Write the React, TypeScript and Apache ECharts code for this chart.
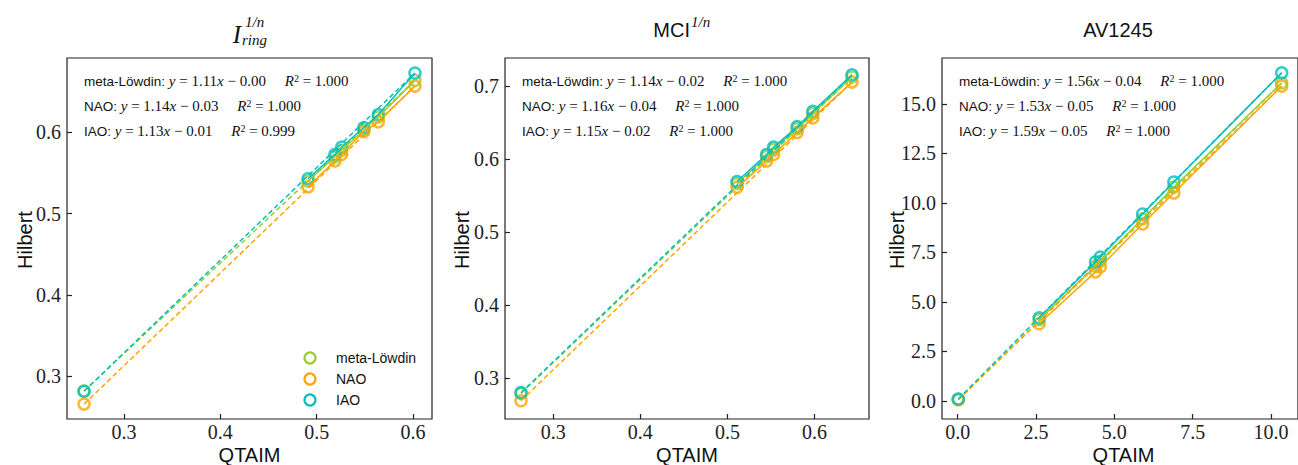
import React, { useEffect, useRef } from "react";
import * as echarts from "echarts";

// ---------- data ----------
const METHODS = ["meta-Löwdin", "NAO", "IAO"];
const COLORS = ["#9acd32", "#ffa500", "#00bfbf"];

const X_IRING = [0.2585, 0.491, 0.519, 0.526, 0.549, 0.564, 0.602];
const IRING_META = [0.282, 0.54, 0.57, 0.578, 0.603, 0.619, 0.664];
const IRING_NAO = [0.266, 0.533, 0.565, 0.573, 0.601, 0.613, 0.657];
const IRING_IAO = [0.2817, 0.543, 0.573, 0.582, 0.606, 0.622, 0.673];

const X_MCI = [0.263, 0.511, 0.545, 0.553, 0.58, 0.598, 0.643];
const MCI_META = [0.279, 0.566, 0.603, 0.613, 0.641, 0.662, 0.712];
const MCI_NAO = [0.269, 0.561, 0.597, 0.606, 0.636, 0.656, 0.705];
const MCI_IAO = [0.28, 0.569, 0.606, 0.616, 0.644, 0.665, 0.715];

const X_AV = [0.02, 2.6, 4.4, 4.55, 5.9, 6.9, 10.34];
const AV_META = [0.08, 4.1, 6.8, 7.05, 9.2, 10.8, 16.06];
const AV_NAO = [0.06, 3.9, 6.52, 6.77, 8.94, 10.5, 15.9];
const AV_IAO = [0.1, 4.2, 7.02, 7.27, 9.44, 11.06, 16.57];

// fit annotations: [slope, intercept, R2]
const IRING_FITS = [["1.11", "0.00", "1.000"], ["1.14", "0.03", "1.000"], ["1.13", "0.01", "0.999"]];
const MCI_FITS = [["1.14", "0.02", "1.000"], ["1.16", "0.04", "1.000"], ["1.15", "0.02", "1.000"]];
const AV_FITS = [["1.56", "0.04", "1.000"], ["1.53", "0.05", "1.000"], ["1.59", "0.05", "1.000"]];

const IRING_XTICKS = [0.3, 0.4, 0.5, 0.6];
const IRING_YTICKS = [0.3, 0.4, 0.5, 0.6];
const MCI_XTICKS = [0.3, 0.4, 0.5, 0.6];
const MCI_YTICKS = [0.3, 0.4, 0.5, 0.6, 0.7];
const AV_XTICKS = [0, 2.5, 5, 7.5, 10];
const AV_YTICKS = [0, 2.5, 5, 7.5, 10, 12.5, 15];

const X_NAME = "QTAIM";
const Y_NAME = "Hilbert";

// ---------- layout ----------
const PANELS = [
  { x: X_IRING, ys: [IRING_META, IRING_NAO, IRING_IAO], fits: IRING_FITS, xt: IRING_XTICKS, yt: IRING_YTICKS,
    xr: [0.2408, 0.6197], yr: [0.2476, 0.6915], grid: { left: 67, top: 58, width: 365, height: 361 }, yNameX: 25 },
  { x: X_MCI, ys: [MCI_META, MCI_NAO, MCI_IAO], fits: MCI_FITS, xt: MCI_XTICKS, yt: MCI_YTICKS,
    xr: [0.2446, 0.6625], yr: [0.244, 0.738], grid: { left: 505, top: 58, width: 364, height: 361 }, yNameX: 462 },
  { x: X_AV, ys: [AV_META, AV_NAO, AV_IAO], fits: AV_FITS, xt: AV_XTICKS, yt: AV_YTICKS,
    xr: [-0.5, 10.86], yr: [-0.91, 17.32], grid: { left: 942, top: 58, width: 363, height: 361 }, yNameX: 897 },
];

const SERIF = "Liberation Serif";
const SANS = "Liberation Sans";

export default function App() {
  const ref = useRef<HTMLDivElement>(null);
  useEffect(() => {
    if (!ref.current) return;
    const chart = echarts.init(ref.current, null, { renderer: "svg" });

    const grids: any[] = [];
    const xAxes: any[] = [];
    const yAxes: any[] = [];
    const series: any[] = [];
    const graphics: any[] = [];

    PANELS.forEach((p, i) => {
      grids.push({ ...p.grid, show: true, borderColor: "#222", borderWidth: 1.2, backgroundColor: "transparent", containLabel: false });
      const axisCommon = {
        type: "value",
        splitLine: { show: false },
        axisLine: { show: false, onZero: false },
        axisTick: { show: true, inside: true, length: 5, lineStyle: { color: "#222", width: 1.2 } },
        axisLabel: { color: "#222", fontFamily: SERIF, fontSize: 20, formatter: (v: number) => v.toFixed(1) },
      };
      xAxes.push({
        ...axisCommon, gridIndex: i, min: p.xr[0], max: p.xr[1],
        axisTick: { ...axisCommon.axisTick, customValues: p.xt },
        axisLabel: { ...axisCommon.axisLabel, customValues: p.xt, margin: 3 },
      });
      yAxes.push({
        ...axisCommon, gridIndex: i, min: p.yr[0], max: p.yr[1],
        axisTick: { ...axisCommon.axisTick, customValues: p.yt },
        axisLabel: { ...axisCommon.axisLabel, customValues: p.yt, margin: 6 },
      });

      p.ys.forEach((ys, m) => {
        const pts = p.x.map((xv, k) => [xv, ys[k]]);
        const n = pts.length;
        series.push({
          type: "line", xAxisIndex: i, yAxisIndex: i, data: [pts[0], pts[n - 1]], symbol: "none",
          lineStyle: { color: COLORS[m], width: 1.5, type: [5, 3] }, silent: true,
        });
        series.push({
          type: "line", xAxisIndex: i, yAxisIndex: i, data: pts.slice(1), symbol: "none",
          lineStyle: { color: COLORS[m], width: 1.5 }, silent: true,
        });
        series.push({
          type: "scatter", name: METHODS[m], xAxisIndex: i, yAxisIndex: i, data: pts, symbol: "circle", symbolSize: 11,
          itemStyle: { color: "rgba(0,0,0,0)", borderColor: COLORS[m], borderWidth: 2.5 }, silent: true,
        });
      });

      // fit annotations
      p.fits.forEach((f, m) => {
        graphics.push({
          type: "text", left: p.grid.left + 17, top: 73 + m * 25, silent: true,
          style: {
            text: `{s|${METHODS[m]}:} {i|y} = ${f[0]}{i|x} − ${f[1]}     {i|R}{p|2} = ${f[2]}`,
            fontFamily: SERIF, fontSize: 15, fill: "#111",
            rich: {
              s: { fontFamily: SANS, fontSize: 13.5, fill: "#111" },
              i: { fontFamily: SERIF, fontStyle: "italic", fontSize: 15, fill: "#111" },
              p: { fontFamily: SERIF, fontSize: 10, fill: "#111", verticalAlign: "top", padding: [0, 0, 6, 0] },
            },
          },
        });
      });

      // axis names
      graphics.push({
        type: "text", x: p.grid.left + p.grid.width / 2, y: 455, silent: true,
        style: { text: X_NAME, fontFamily: SANS, fontSize: 20, fill: "#111", align: "center", verticalAlign: "middle" },
      });
      graphics.push({
        type: "text", x: p.yNameX, y: 240, rotation: Math.PI / 2, silent: true,
        style: { text: Y_NAME, fontFamily: SANS, fontSize: 20, fill: "#111", align: "center", verticalAlign: "middle" },
      });
    });

    // titles
    graphics.push({ type: "text", x: 241, y: 47, silent: true, style: { text: "I", fontFamily: SERIF, fontStyle: "italic", fontSize: 25, fill: "#111", align: "right", verticalAlign: "bottom" } });
    graphics.push({ type: "text", x: 245, y: 29, silent: true, style: { text: "1/n", fontFamily: SERIF, fontStyle: "italic", fontSize: 15, fill: "#111", align: "left", verticalAlign: "bottom" } });
    graphics.push({ type: "text", x: 242, y: 47, silent: true, style: { text: "ring", fontFamily: SERIF, fontStyle: "italic", fontSize: 15, fill: "#111", align: "left", verticalAlign: "bottom" } });
    graphics.push({ type: "text", x: 690, y: 40, silent: true, style: { text: "MCI", fontFamily: SANS, fontSize: 20, fill: "#111", align: "right", verticalAlign: "bottom" } });
    graphics.push({ type: "text", x: 691, y: 29, silent: true, style: { text: "1/n", fontFamily: SERIF, fontStyle: "italic", fontSize: 15, fill: "#111", align: "left", verticalAlign: "bottom" } });
    graphics.push({ type: "text", x: 1118, y: 40, silent: true, style: { text: "AV1245", fontFamily: SANS, fontSize: 20, fill: "#111", align: "center", verticalAlign: "bottom" } });

    // legend (panel 1)
    METHODS.forEach((name, m) => {
      const cy = 358 + m * 21;
      graphics.push({ type: "circle", shape: { cx: 310, cy, r: 5.5 }, silent: true, style: { fill: "none", stroke: COLORS[m], lineWidth: 2.2 } });
      graphics.push({ type: "text", x: 336, y: cy, silent: true, style: { text: name, fontFamily: SANS, fontSize: 14, fill: "#111", align: "left", verticalAlign: "middle" } });
    });

    chart.setOption({
      animation: false,
      backgroundColor: "#ffffff",
      grid: grids,
      xAxis: xAxes,
      yAxis: yAxes,
      series,
      graphic: graphics,
    });
    return () => chart.dispose();
  }, []);
  return <div ref={ref} style={{ position: "fixed", left: 0, top: 0, width: 1298, height: 465 }} />;
}
